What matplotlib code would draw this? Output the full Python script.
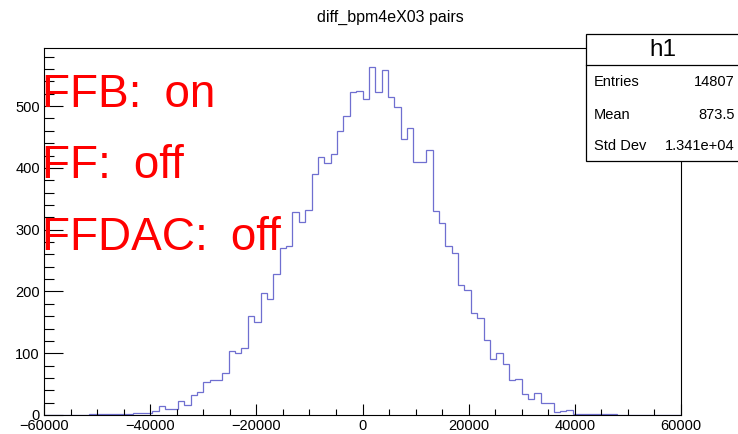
import numpy as np
import matplotlib
matplotlib.use("Agg")
import matplotlib.pyplot as plt
from matplotlib.patches import Rectangle
from matplotlib.lines import Line2D
from matplotlib.ticker import MultipleLocator

plt.rcParams['font.family'] = ['Liberation Sans', 'DejaVu Sans']

# histogram: 100 bins from -60000 to 60000
x_lo, x_hi, n_bins = -60000, 60000, 100
counts = [
    0, 0, 0, 0, 0, 0, 0, 1, 1, 1,
    1, 2, 2, 1, 3, 3, 4, 6, 14, 9,
    10, 22, 16, 33, 38, 54, 57, 57, 68, 103,
    101, 108, 161, 151, 197, 188, 228, 271, 274, 329,
    313, 332, 390, 418, 408, 423, 460, 484, 522, 524,
    511, 564, 523, 558, 515, 499, 446, 464, 410, 409,
    429, 330, 311, 273, 263, 211, 202, 165, 157, 122,
    90, 100, 82, 57, 59, 34, 26, 35, 20, 20,
    5, 6, 8, 2, 1, 1, 2, 1, 1, 1,
    0, 0, 0, 0, 0, 0, 0, 0, 0, 0,
]

title = "diff_bpm4eX03 pairs"
stats_name = "h1"
stats_labels = ["Entries", "Mean", "Std Dev"]
stats_values = ["14807", "873.5", "1.341e+04"]
# en space after the colon: ROOT leaves a wider gap there
notes = ["FFB:\u2002on", "FF:\u2002off", "FFDAC:\u2002off"]

W, H = 738, 434
fig = plt.figure(figsize=(W / 100, H / 100), dpi=100)
fig.patch.set_facecolor('white')

def fx(px):
    return px / W

def fy(py):
    return (H - py) / H

ax = fig.add_axes([fx(44), fy(415), (681 - 44) / W, (415 - 48) / H])
edges = np.linspace(x_lo, x_hi, n_bins + 1)
ax.stairs(counts, edges, color='#6f6fd0', lw=0.9)
ax.set_xlim(x_lo, x_hi)
ax.set_ylim(0, 594)

ax.xaxis.set_major_locator(MultipleLocator(20000))
ax.xaxis.set_minor_locator(MultipleLocator(5000))
ax.yaxis.set_major_locator(MultipleLocator(100))
ax.yaxis.set_minor_locator(MultipleLocator(20))
ax.tick_params(axis='x', which='major', direction='in', length=8, width=0.8,
               labelsize=10.5, pad=3, top=False)
ax.tick_params(axis='x', which='minor', direction='in', length=4, width=0.8, top=False)
ax.tick_params(axis='y', which='major', direction='in', length=14, width=0.8,
               labelsize=10.5, pad=3, right=False)
ax.tick_params(axis='y', which='minor', direction='in', length=7, width=0.8, right=False)
for s in ax.spines.values():
    s.set_linewidth(0.8)
    s.set_color('black')

fig.text(fx(390), fy(17), title, ha='center', va='center', fontsize=11.5)

# red annotations
for txt, base in zip(notes, [107, 178, 250]):
    fig.text(fx(42.5), fy(base), txt, ha='left', va='baseline', fontsize=33, color='red')

# stats box
box_l, box_t, box_b, box_sep = 586, 34, 161, 65
fig.add_artist(Rectangle((fx(box_l), fy(box_b)), 1.0, fy(box_t) - fy(box_b),
                         transform=fig.transFigure, facecolor='white',
                         edgecolor='black', lw=0.9, zorder=5))
fig.add_artist(Line2D([fx(box_l), 1.0], [fy(box_sep), fy(box_sep)],
                      transform=fig.transFigure, color='black', lw=0.9, zorder=6))
fig.text(fx(663), fy(50), stats_name, ha='center', va='center', fontsize=17.5, zorder=7)
for lab, val, yy in zip(stats_labels, stats_values, [82, 115, 146]):
    fig.text(fx(594), fy(yy), lab, ha='left', va='center', fontsize=10.5, zorder=7)
    fig.text(fx(735), fy(yy), val, ha='right', va='center', fontsize=10.5, zorder=7)

fig.savefig("out.png", dpi=100)
